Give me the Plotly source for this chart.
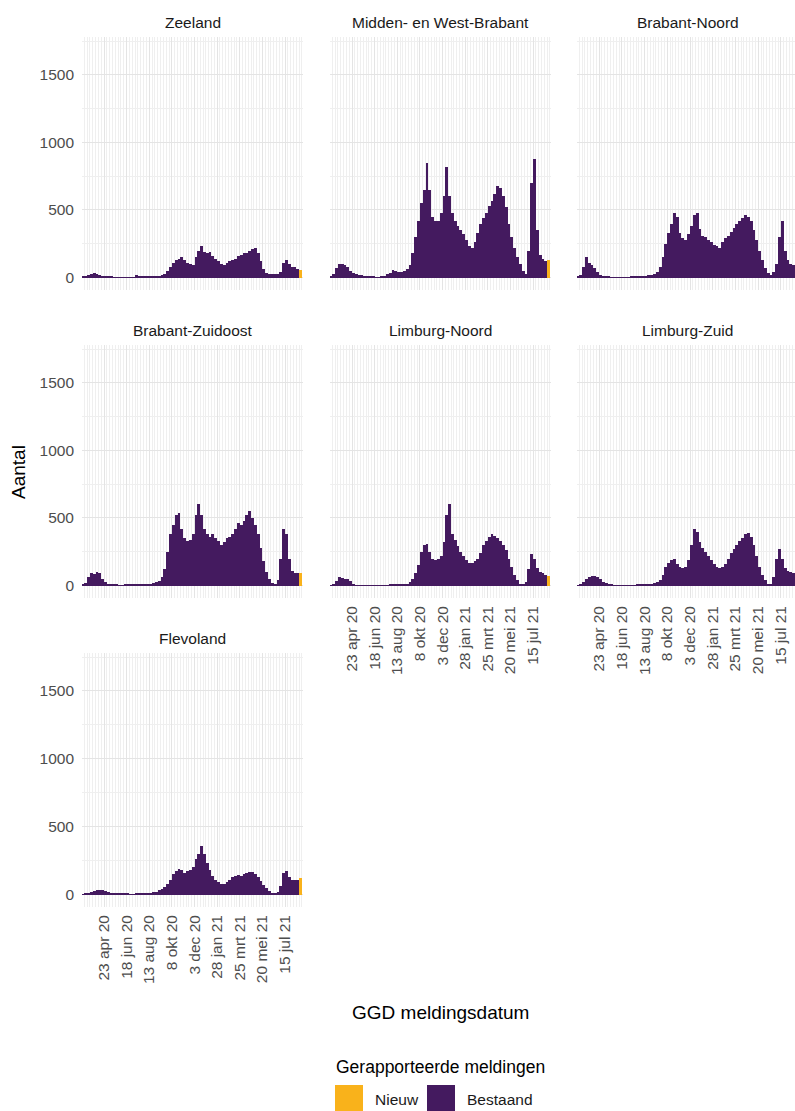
import plotly.graph_objects as go
from datetime import date, timedelta

# ---------------- data (weekly totals) ----------------
week_start = "2020-02-27"
regions = ["Zeeland", "Midden- en West-Brabant", "Brabant-Noord",
           "Brabant-Zuidoost", "Limburg-Noord", "Limburg-Zuid", "Flevoland"]

zeeland = [5, 8, 20, 28, 32, 28, 20, 12, 8, 6,
           5, 4, 4, 3, 3, 3, 3, 2, 4, 20,
           8, 8, 10, 10, 8, 10, 12, 15, 20, 30,
           50, 80, 110, 130, 140, 150, 130, 110, 100, 90,
           150, 200, 235, 190, 180, 190, 160, 140, 120, 100,
           95, 110, 120, 130, 140, 160, 170, 180, 185, 200,
           210, 220, 180, 120, 60, 35, 30, 28, 28, 30,
           40, 110, 130, 100, 80, 75, 65]
midden_west_brabant = [10, 30, 70, 100, 100, 95, 75, 50, 35, 25,
                       20, 18, 15, 10, 8, 5, 3, 3, 8, 15,
                       25, 35, 55, 50, 40, 40, 45, 60, 90, 180,
                       300, 420, 550, 650, 850, 650, 450, 420, 420, 480,
                       600, 820, 600, 480, 420, 380, 350, 320, 280, 230,
                       220, 260, 330, 400, 440, 480, 530, 570, 620, 680,
                       660, 600, 520, 400, 300, 220, 150, 100, 50, 30,
                       200, 700, 880, 350, 170, 140, 125]
brabant_noord = [5, 20, 80, 150, 110, 90, 70, 40, 20, 12,
                 8, 5, 4, 4, 3, 3, 3, 3, 4, 5,
                 8, 10, 12, 15, 15, 18, 20, 25, 40, 80,
                 150, 250, 330, 400, 480, 450, 330, 290, 280, 320,
                 380, 460, 480, 360, 310, 300, 280, 260, 240, 230,
                 220, 260, 290, 310, 340, 370, 400, 420, 440, 460,
                 450, 420, 350, 280, 200, 130, 70, 35, 20, 40,
                 100, 300, 420, 200, 130, 100, 90]
brabant_zuidoost = [5, 20, 60, 90, 85, 100, 90, 50, 25, 10,
                    6, 5, 5, 4, 4, 5, 6, 8, 10, 8,
                    6, 6, 10, 12, 15, 20, 25, 35, 60, 120,
                    250, 380, 450, 520, 540, 420, 350, 330, 340, 380,
                    520, 600, 520, 420, 380, 360, 380, 350, 330, 300,
                    320, 350, 360, 380, 420, 460, 450, 480, 520, 550,
                    500, 450, 380, 280, 180, 100, 50, 20, 15, 40,
                    200, 420, 380, 200, 110, 95, 90]
limburg_noord = [3, 10, 35, 60, 55, 50, 45, 35, 8, 4,
                 3, 3, 3, 2, 2, 2, 2, 2, 3, 3,
                 4, 5, 6, 8, 10, 10, 12, 15, 25, 50,
                 90, 150, 250, 300, 310, 250, 200, 190, 200, 220,
                 320, 520, 600, 380, 340, 290, 250, 220, 190, 170,
                 165, 180, 200, 240, 300, 330, 360, 380, 370, 350,
                 330, 300, 260, 200, 140, 80, 40, 15, 8, 30,
                 120, 230, 200, 130, 100, 90, 80]
limburg_zuid = [3, 10, 25, 45, 60, 70, 70, 60, 45, 30,
                20, 12, 6, 4, 3, 3, 3, 3, 3, 3,
                4, 5, 6, 8, 10, 12, 15, 18, 25, 40,
                80, 140, 170, 190, 200, 160, 140, 130, 140, 190,
                300, 420, 400, 320, 280, 250, 220, 190, 160, 140,
                130, 140, 160, 200, 240, 270, 300, 330, 350, 380,
                390, 360, 300, 220, 140, 80, 40, 15, 12, 60,
                200, 270, 200, 130, 110, 100, 90]
flevoland = [2, 5, 10, 18, 25, 30, 35, 35, 28, 20,
             12, 8, 6, 5, 5, 4, 4, 3, 3, 4,
             5, 8, 10, 12, 14, 16, 20, 30, 40, 55,
             80, 110, 150, 170, 190, 180, 160, 170, 180, 200,
             260, 300, 360, 300, 230, 180, 140, 110, 90, 80,
             80, 95, 110, 130, 140, 145, 140, 150, 160, 165,
             165, 150, 130, 100, 70, 45, 25, 12, 8, 15,
             60, 160, 170, 130, 110, 110, 110]

bestaand = [zeeland, midden_west_brabant, brabant_noord, brabant_zuidoost,
            limburg_noord, limburg_zuid, flevoland]
nieuw = [55, 130, 80, 90, 70, 85, 120]

tick_dates = ["2020-04-23", "2020-06-18", "2020-08-13", "2020-10-08", "2020-12-03",
              "2021-01-28", "2021-03-25", "2021-05-20", "2021-07-15"]
tick_labels = ["23 apr 20", "18 jun 20", "13 aug 20", "8 okt 20", "3 dec 20",
               "28 jan 21", "25 mrt 21", "20 mei 21", "15 jul 21"]
y_ticks = [0, 500, 1000, 1500]
y_minor = [250, 750, 1250, 1750]

# ---------------- styling / layout ----------------
W, H = 795, 1111
FONT = "Liberation Sans, Arial, sans-serif"
C_BESTAAND = "#441A5F"
C_NIEUW = "#F9B21B"
GRID_MAJOR = "#E4E4E4"
GRID_MINOR = "#EFEFEF"
DAY_MS = 86400000

cols = [(82, 303), (330, 551), (577, 795)]
rows = [(37, 290), (345, 598), (653, 907)]
x_ranges = [["2020-02-28 12:00", "2021-08-28 12:00"],
            ["2020-02-28 12:00", "2021-08-28 12:00"],
            ["2020-02-28 12:00", "2021-08-18 18:00"]]
y_range = [-92, 1780]
xlabel_panels = {4, 5, 6}  # Limburg-Noord, Limburg-Zuid, Flevoland
ylabel_cols = {0}

d0 = date.fromisoformat(week_start)

fig = go.Figure()
layout = dict(
    width=W, height=H, margin=dict(l=0, r=0, t=0, b=0),
    paper_bgcolor="white", plot_bgcolor="white",
    showlegend=False, barmode="overlay", bargap=0,
    font=dict(family=FONT),
)
annotations = []
shapes = []

for i, (name, vals) in enumerate(zip(regions, bestaand)):
    r, c = divmod(i, 3)
    ax = "" if i == 0 else str(i + 1)
    xs = [(d0 + timedelta(days=7 * k)).isoformat() for k in range(len(vals))]
    x_new = (d0 + timedelta(days=7 * len(vals))).isoformat()
    fig.add_trace(go.Bar(x=xs, y=vals, width=7 * DAY_MS, offset=0,
                         marker=dict(color=C_BESTAAND, line=dict(width=0)),
                         name="Bestaand", xaxis="x" + ax, yaxis="y" + ax))
    fig.add_trace(go.Bar(x=[x_new], y=[nieuw[i]], width=7 * DAY_MS, offset=0,
                         marker=dict(color=C_NIEUW, line=dict(width=0)),
                         name="Nieuw", xaxis="x" + ax, yaxis="y" + ax))
    x0, x1 = cols[c]
    y0, y1 = rows[r]
    layout["xaxis" + ax] = dict(
        domain=[x0 / W, x1 / W], anchor="y" + ax, type="date",
        range=x_ranges[c], tickmode="array", tickvals=tick_dates, ticktext=tick_labels,
        showticklabels=(i in xlabel_panels), tickangle=-90,
        tickfont=dict(family=FONT, size=15.5, color="#4D4D4D"),
        ticks="", ticklabelstandoff=4,
        showgrid=True, gridcolor=GRID_MAJOR, gridwidth=1,
        minor=dict(dtick=7 * DAY_MS, tick0="2020-04-23", showgrid=True,
                   gridcolor=GRID_MINOR, gridwidth=0.7),
        zeroline=False, showline=False, fixedrange=True,
    )
    layout["yaxis" + ax] = dict(
        domain=[1 - y1 / H, 1 - y0 / H], anchor="x" + ax,
        range=y_range, tickmode="array", tickvals=y_ticks,
        showticklabels=(c in ylabel_cols),
        tickfont=dict(family=FONT, size=15.5, color="#4D4D4D"),
        ticks="", ticklabelstandoff=7,
        showgrid=True, gridcolor=GRID_MAJOR, gridwidth=1,
        minor=dict(tickvals=y_minor, showgrid=True, gridcolor=GRID_MINOR, gridwidth=0.7),
        zeroline=False, showline=False, fixedrange=True,
    )
    strip_y = y0 - 15
    annotations.append(dict(text=name, x=(x0 + (x0 + 221)) / 2 / W, y=1 - strip_y / H,
                            xref="paper", yref="paper", showarrow=False,
                            xanchor="center", yanchor="middle",
                            font=dict(family=FONT, size=15.5, color="#1A1A1A")))

# axis titles
annotations.append(dict(text="Aantal", x=18 / W, y=1 - 472 / H, xref="paper", yref="paper",
                        showarrow=False, textangle=-90, xanchor="center", yanchor="middle",
                        font=dict(family=FONT, size=19, color="black")))
annotations.append(dict(text="GGD meldingsdatum", x=440 / W, y=1 - 1012 / H,
                        xref="paper", yref="paper", showarrow=False,
                        xanchor="center", yanchor="middle",
                        font=dict(family=FONT, size=19, color="black")))
# legend (drawn manually)
annotations.append(dict(text="Gerapporteerde meldingen", x=440 / W, y=1 - 1067 / H,
                        xref="paper", yref="paper", showarrow=False,
                        xanchor="center", yanchor="middle",
                        font=dict(family=FONT, size=17.5, color="black")))
legend_items = [("Nieuw", C_NIEUW, 335), ("Bestaand", C_BESTAAND, 427)]
for label, color, lx in legend_items:
    shapes.append(dict(type="rect", xref="paper", yref="paper",
                       x0=lx / W, x1=(lx + 28) / W, y0=1 - 1113 / H, y1=1 - 1085 / H,
                       fillcolor=color, line=dict(width=0)))
    annotations.append(dict(text=label, x=(lx + 38) / W, y=1 - 1099 / H,
                            xref="paper", yref="paper", showarrow=False,
                            xanchor="left", yanchor="middle",
                            font=dict(family=FONT, size=15.5, color="#1A1A1A")))

layout["annotations"] = annotations
layout["shapes"] = shapes
fig.update_layout(**layout)
# remove the browser's default 8px page margin so the figure fills the window exactly
fig.write_html("out.html", config={"displayModeBar": False},
               post_script="document.body.style.margin='0px';")
